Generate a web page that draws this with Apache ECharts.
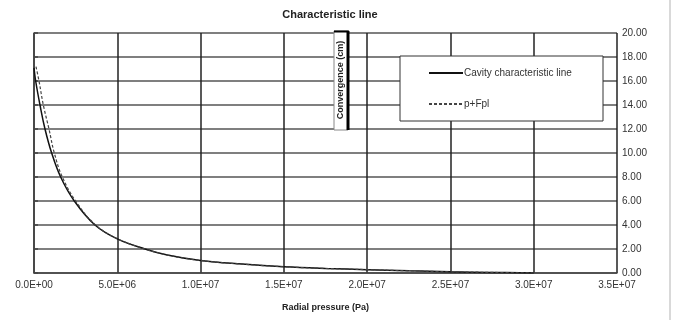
<!DOCTYPE html>
<html><head><meta charset="utf-8">
<script src="https://cdn.jsdelivr.net/npm/echarts@6/dist/echarts.min.js"></script>
<style>html,body{margin:0;padding:0;background:#fff}#c{width:677px;height:320px}</style>
</head><body><div id="c"></div>
<script>
// Cavity characteristic line: radial pressure (Pa) vs convergence (cm)
const cavityP = [0, 0.1e6, 0.36e6, 0.66e6, 1.06e6, 1.6e6, 2.42e6, 3.66e6, 5.0e6, 6.66e6, 8.0e6, 1.0e7, 1.25e7, 1.5e7, 1.75e7, 2.0e7, 2.25e7, 2.5e7, 2.75e7, 3.0e7];
const cavityC = [17.1, 16.0, 14.0, 12.0, 10.0, 8.0, 6.0, 4.0, 2.84, 2.0, 1.5, 1.04, 0.74, 0.52, 0.38, 0.28, 0.18, 0.1, 0.05, 0.0];
// p+Fpl
const fplP = [0.12e6, 0.3e6, 0.56e6, 0.9e6, 1.22e6, 1.7e6, 2.5e6, 3.7e6, 5.0e6, 6.66e6, 8.0e6, 1.0e7, 1.25e7, 1.5e7, 1.75e7, 2.0e7, 2.25e7, 2.5e7, 2.75e7, 3.0e7];
const fplC = [17.2, 16.0, 14.0, 12.0, 10.0, 8.0, 6.0, 4.0, 2.86, 2.0, 1.5, 1.04, 0.74, 0.52, 0.38, 0.28, 0.18, 0.1, 0.05, 0.0];
const seriesNames = ['Cavity characteristic line', 'p+Fpl'];
const titleText = 'Characteristic line';
const xName = 'Radial pressure (Pa)';
const yName = 'Convergence (cm)';

function sci(v){
  if (v === 0) return '0.0E+00';
  const e = Math.floor(Math.log10(Math.abs(v)) + 1e-9);
  const m = v / Math.pow(10, e);
  return m.toFixed(1) + 'E' + (e >= 0 ? '+' : '-') + String(Math.abs(e)).padStart(2, '0');
}
const font = 'Liberation Sans, Arial, sans-serif';
const chart = echarts.init(document.getElementById('c'));
chart.setOption({
  animation: false,
  title: { text: titleText, left: 325, textAlign: 'center', top: 4,
    textStyle: { fontFamily: font, fontSize: 11, fontWeight: 'bold', color: '#222' } },
  grid: { left: 34, right: 60, top: 33, bottom: 47 },
  legend: {
    orient: 'vertical', left: 423, top: 63, itemWidth: 34, itemHeight: 10, itemGap: 21,
    z: 6, itemStyle: { opacity: 0 },
    textStyle: { fontFamily: font, fontSize: 10, color: '#333', padding: [0,0,0,-4] },
    data: seriesNames
  },
  xAxis: {
    type: 'value', min: 0, max: 3.5e7, interval: 5e6,
    name: xName, nameLocation: 'middle', nameGap: 30,
    nameTextStyle: { fontFamily: font, fontSize: 9, fontWeight: 'bold', color: '#222' },
    axisLine: { lineStyle: { color: '#444', width: 1.5 } },
    axisTick: { show: false },
    axisLabel: { formatter: sci, fontFamily: font, fontSize: 10, color: '#333', margin: 7 },
    splitLine: { show: true, lineStyle: { color: '#222', width: 1.5 } }
  },
  yAxis: {
    type: 'value', position: 'right', min: 0, max: 20, interval: 2,
    axisLine: { show: true, lineStyle: { color: '#444', width: 1.5 } },
    axisTick: { show: true, length: 4, lineStyle: { color: '#444', width: 1.5 } },
    axisLabel: { formatter: v => v.toFixed(2), fontFamily: font, fontSize: 10, color: '#333', margin: 5 },
    splitLine: { show: true, lineStyle: { color: '#555', width: 1.5 } }
  },
  graphic: [
    { type: 'rect', z: 5, shape: { x: 400, y: 56, width: 203, height: 65 },
      style: { fill: '#fff', stroke: '#333', lineWidth: 1 } },
    { type: 'rect', z: 5, shape: { x: 334, y: 31, width: 14, height: 99 },
      style: { fill: '#fff', stroke: '#888', lineWidth: 1 } },
    { type: 'line', z: 6, shape: { x1: 348, y1: 31, x2: 348, y2: 130 },
      style: { stroke: '#000', lineWidth: 3 } },
    { type: 'line', z: 6, shape: { x1: 334, y1: 31.5, x2: 349, y2: 31.5 },
      style: { stroke: '#000', lineWidth: 2 } },
    { type: 'text', z: 7, x: 341, y: 80, rotation: Math.PI / 2,
      style: { text: yName, font: 'bold 9px ' + font, fill: '#222', textAlign: 'center', textVerticalAlign: 'middle' } },
    { type: 'line', z: 1, shape: { x1: 670, y1: 0, x2: 670, y2: 320 },
      style: { stroke: '#ccc', lineWidth: 1.5 } }
  ],
  series: [
    { name: seriesNames[0], type: 'line', smooth: 0.4, symbol: 'none', z: 3,
      data: cavityP.map((p, i) => [p, cavityC[i]]),
      lineStyle: { color: '#111', width: 1.5 }, itemStyle: { color: '#111' } },
    { name: seriesNames[1], type: 'line', smooth: 0.4, symbol: 'none', z: 3,
      data: fplP.map((p, i) => [p, fplC[i]]),
      lineStyle: { color: '#444', width: 1.2, type: [3, 2] }, itemStyle: { color: '#444' } }
  ]
});
</script></body></html>
